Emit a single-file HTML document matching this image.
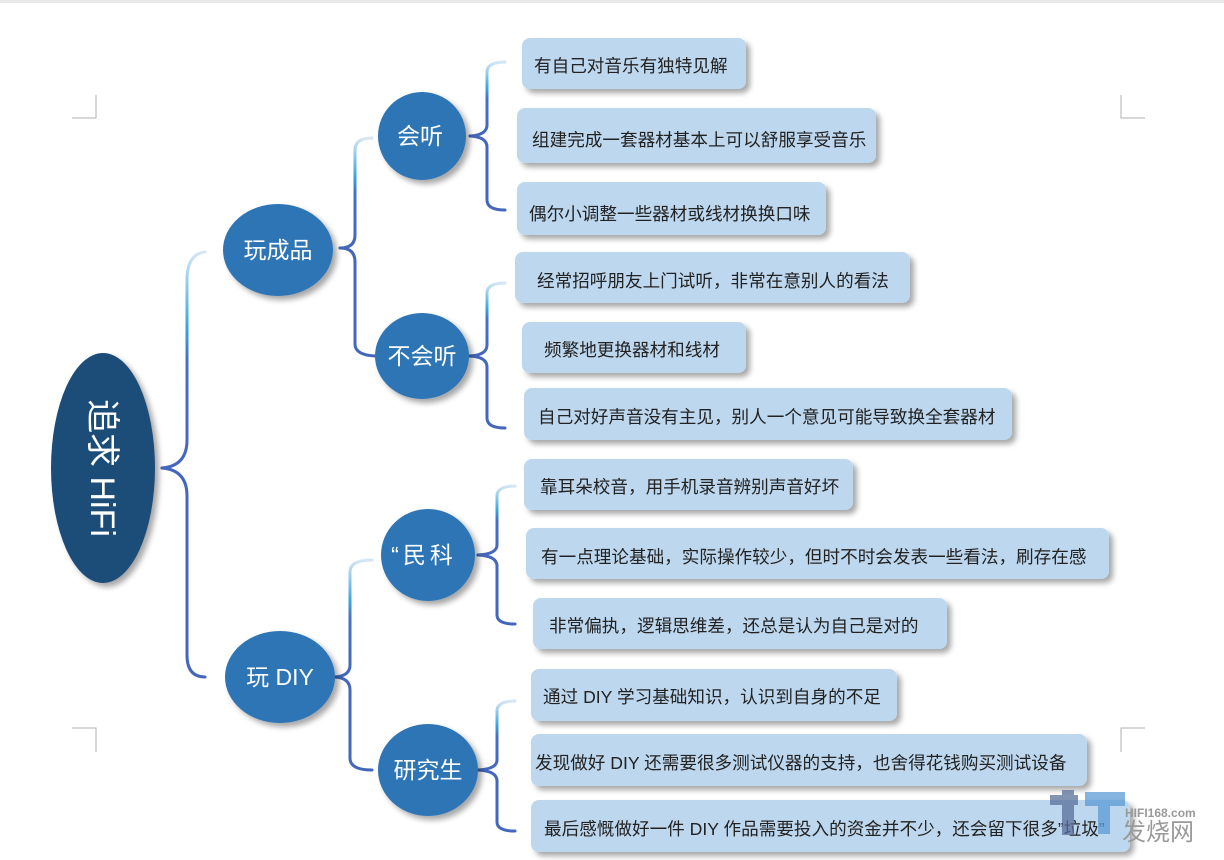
<!DOCTYPE html>
<html><head><meta charset="utf-8"><style>
html,body{margin:0;padding:0;background:#fff;width:1224px;height:860px;overflow:hidden}
svg{display:block}
.b{fill:#bdd7ee}
.t{font-family:"Liberation Sans","Noto Sans CJK SC",sans-serif;font-size:17.6px;fill:#222}
.n{font-family:"Liberation Sans","Noto Sans CJK SC",sans-serif;font-size:23px;fill:#fff;text-anchor:middle}
.br{fill:none;stroke-width:3;stroke-linecap:round;stroke-linejoin:round}
</style></head><body>
<svg width="1224" height="860" viewBox="0 0 1224 860">
<defs>
<filter id="sh" x="-20%" y="-20%" width="150%" height="150%"><feGaussianBlur in="SourceAlpha" stdDeviation="3"/><feOffset dx="4" dy="4"/><feComponentTransfer><feFuncA type="linear" slope="0.35"/></feComponentTransfer><feMerge><feMergeNode/><feMergeNode in="SourceGraphic"/></feMerge></filter>
<linearGradient id="g" x1="0" y1="0" x2="0" y2="1"><stop offset="0" stop-color="#d6e6f4"/><stop offset="0.35" stop-color="#3aa6dd"/><stop offset="0.5" stop-color="#4472c4"/><stop offset="1" stop-color="#4466bb"/></linearGradient>
</defs>
<rect x="0" y="0" width="1224" height="3" fill="#e8e8e8"/>
<g stroke="#b0b0b0" fill="none" stroke-width="1">
<path d="M72 118H96V95"/><path d="M1145 118H1121V95"/><path d="M72 728H96V752"/><path d="M1145 728H1121V752"/>
</g>
<g class="br" stroke="url(#g)">
<path d="M205 252 Q187 254 187 280 V440 Q187 466 162 468"/>
<path d="M372 138 Q355 138 355 150 V235 Q355 248 340 248"/>
<path d="M505 62 Q487 62 487 72 V125 Q487 135 470 136"/>
<path d="M505 283 Q487 283 487 293 V345 Q487 355 470 356"/>
<path d="M515 486 Q497 486 497 496 V545 Q497 554 478 555"/>
<path d="M515 701 Q497 701 497 711 V760 Q497 769 478 770"/>
<path d="M372 560 Q350 560 350 572 V665 Q350 676 335 677"/>
</g>
<g class="br" stroke="#4466bb">
<path d="M162 468 Q187 470 187 496 V655 Q187 677 205 677"/>
<path d="M340 248 Q355 248 355 262 V344 Q355 355 375 356"/>
<path d="M470 136 Q487 137 487 147 V200 Q487 210 505 210"/>
<path d="M470 356 Q487 357 487 367 V418 Q487 428 505 428"/>
<path d="M478 555 Q497 556 497 566 V615 Q497 624 515 624"/>
<path d="M478 770 Q497 771 497 781 V822 Q497 831 515 831"/>
<path d="M335 677 Q350 678 350 690 V758 Q350 770 372 770"/>
</g>
<g filter="url(#sh)">
<ellipse cx="103" cy="468" rx="52" ry="115" fill="#1f4e79"/>
<ellipse cx="278" cy="250" rx="55" ry="46" fill="#2e75b6"/>
<ellipse cx="280" cy="677" rx="55" ry="46" fill="#2e75b6"/>
<ellipse cx="422" cy="136" rx="44" ry="44" fill="#2e75b6"/>
<ellipse cx="422" cy="356" rx="47" ry="43" fill="#2e75b6"/>
<ellipse cx="428" cy="555" rx="47" ry="46" fill="#2e75b6"/>
<ellipse cx="428" cy="770" rx="50" ry="46" fill="#2e75b6"/>
</g>
<text class="n" transform="translate(100,468) rotate(90)" x="0" y="0" style="font-size:34px" dominant-baseline="middle">追求 HiFi</text>
<text class="n" x="278" y="258">玩成品</text>
<text class="n" x="280" y="685">玩 DIY</text>
<text class="n" x="420" y="144">会听</text>
<text class="n" x="422" y="364">不会听</text>
<text class="n" x="424" y="563" style="letter-spacing:4px">“民科</text>
<text class="n" x="428" y="778">研究生</text>
<g filter="url(#sh)">
<rect class="b" x="522" y="38" width="224" height="51" rx="8"/>
<rect class="b" x="517" y="108" width="359" height="55" rx="8"/>
<rect class="b" x="517" y="182" width="309" height="53" rx="8"/>
<rect class="b" x="515" y="252" width="395" height="51" rx="8"/>
<rect class="b" x="522" y="322" width="224" height="51" rx="8"/>
<rect class="b" x="524" y="388" width="488" height="52" rx="8"/>
<rect class="b" x="524" y="459" width="329" height="51" rx="8"/>
<rect class="b" x="526" y="528" width="583" height="51" rx="8"/>
<rect class="b" x="533" y="598" width="414" height="51" rx="8"/>
<rect class="b" x="531" y="669" width="366" height="52" rx="8"/>
<rect class="b" x="531" y="734" width="556" height="52" rx="8"/>
<rect class="b" x="531" y="800" width="599" height="52" rx="8"/>
</g>
<text class="t" x="534" y="72">有自己对音乐有独特见解</text>
<text class="t" x="532" y="146">组建完成一套器材基本上可以舒服享受音乐</text>
<text class="t" x="529" y="220">偶尔小调整一些器材或线材换换口味</text>
<text class="t" x="537" y="287">经常招呼朋友上门试听，非常在意别人的看法</text>
<text class="t" x="544" y="356">频繁地更换器材和线材</text>
<text class="t" x="538" y="423">自己对好声音没有主见，别人一个意见可能导致换全套器材</text>
<text class="t" x="540" y="493">靠耳朵校音，用手机录音辨别声音好坏</text>
<text class="t" x="541" y="563">有一点理论基础，实际操作较少，但时不时会发表一些看法，刷存在感</text>
<text class="t" x="549" y="632">非常偏执，逻辑思维差，还总是认为自己是对的</text>
<text class="t" x="543" y="703">通过 DIY 学习基础知识，认识到自身的不足</text>
<text class="t" x="535" y="769">发现做好 DIY 还需要很多测试仪器的支持，也舍得花钱购买测试设备</text>
<text class="t" x="544" y="835">最后感慨做好一件 DIY 作品需要投入的资金并不少，还会留下很多”垃圾”</text>
<g opacity="0.75">
<rect x="1050" y="795" width="28" height="10" fill="#5a6f9a"/>
<rect x="1062" y="790" width="12" height="45" fill="#5a6f9a"/>
<rect x="1085" y="792" width="40" height="14" fill="#5b9bd5"/>
<rect x="1098" y="806" width="12" height="28" fill="#5b9bd5"/>
</g>
<text x="1125" y="817" style="font-family:'Liberation Sans',sans-serif;font-size:12px;font-weight:bold;fill:#999">HIFI168.com</text>
<text x="1122" y="840" style="font-family:'Liberation Sans','Noto Sans CJK SC',sans-serif;font-size:24px;fill:#999">发烧网</text>
</svg>
</body></html>
